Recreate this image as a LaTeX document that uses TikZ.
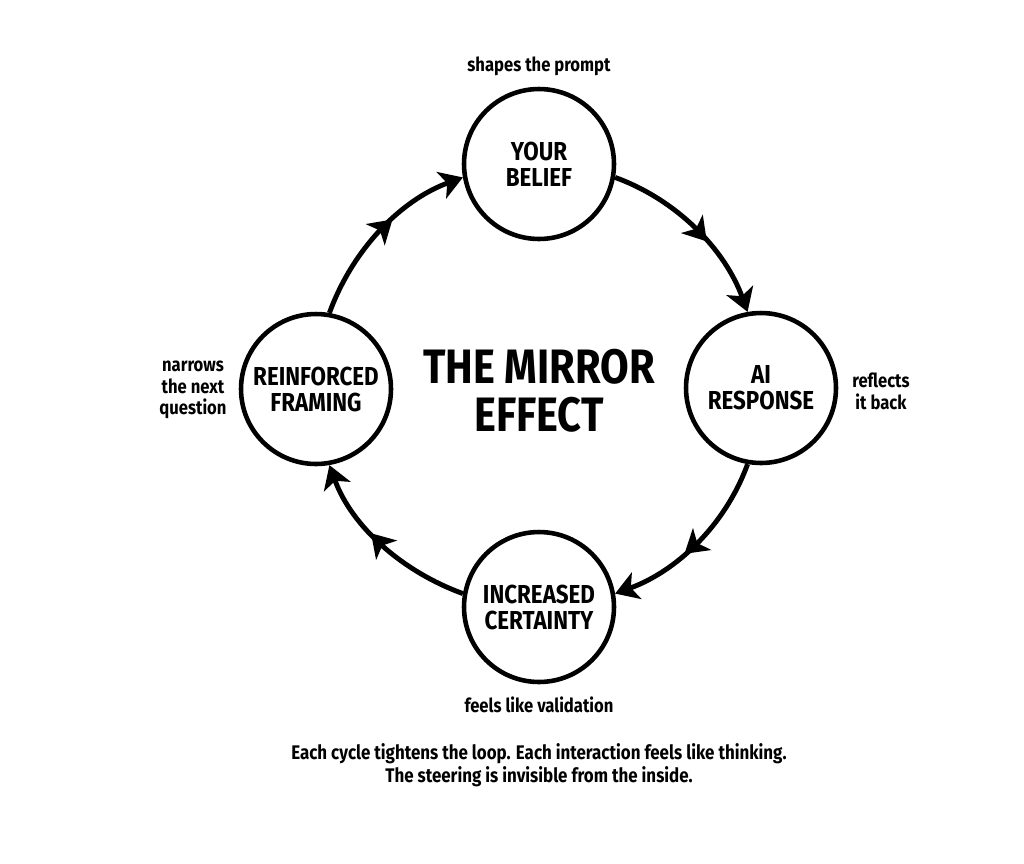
\documentclass[tikz,border=0pt]{standalone}
\usepackage{fontspec}
\setmainfont{Fira Sans}[FakeStretch=0.86]
\usetikzlibrary{arrows.meta,decorations.markings}
\tikzset{
	stage/.style={draw, circle, line width=2.6pt, minimum size=3cm, inner sep=0pt, align=center, font=\fontsize{14.8}{14.8}\selectfont\bfseries},
	note/.style={align=center, font=\fontsize{11}{12.4}\selectfont\bfseries},
	headline/.style={align=center, font=\fontsize{27.5}{27.5}\selectfont\bfseries},
	loop/.style={line width=2.8pt, -{Stealth[length=13pt,width=16pt,inset=3.5pt]}, looseness=0.9, postaction={decorate},
		decoration={markings, mark=at position 0.58 with {\arrow{Stealth[length=13pt,width=16pt,inset=3.5pt]}}}}
}

\begin{document}
\begin{tikzpicture}[x=0.02cm, y=0.02cm]
			%%%%% START %%%%%
			
			\fill[white] (0, 0) rectangle (1024, -863);
			\useasboundingbox (0, 0) rectangle (1024, -863);
			
			\node[headline] (mirror) at (539, -391) {THE MIRROR\\EFFECT};
			
			\node[stage] (yb) at (539, -164) {YOUR\\BELIEF};
			\node[note] (prompt) at (539, -66) {shapes the prompt};
			
			\node[stage] (ai) at (761, -388) {AI\\RESPONSE};
			\node[note] (reflect) at (881, -391) {reflects\\it back};
			
			\node[stage] (ic) at (539, -607) {INCREASED\\CERTAINTY};
			\node[note] (valid) at (539, -705) {feels like validation};
			
			\node[stage] (rf) at (316, -389) {REINFORCED\\FRAMING};
			\node[note] (narrow) at (193, -390) {narrows\\the next\\question};
			
			\draw[loop] (yb.-10) to[out=-20, in=110] (ai.100);
			\draw[loop] (ai.-100) to[out=-110, in=20] (ic.10);
			\draw[loop] (ic.170) to[out=160, in=-70] (rf.-80);
			\draw[loop] (rf.80) to[out=70, in=-160] (yb.190);
			
			\node[note, font=\fontsize{11.2}{13}\selectfont\bfseries] (caption) at (539, -765) {Each cycle tightens the loop. Each interaction feels like thinking.\\The steering is invisible from the inside.};
			
			%%%%% END %%%%%
\end{tikzpicture}
\end{document}
